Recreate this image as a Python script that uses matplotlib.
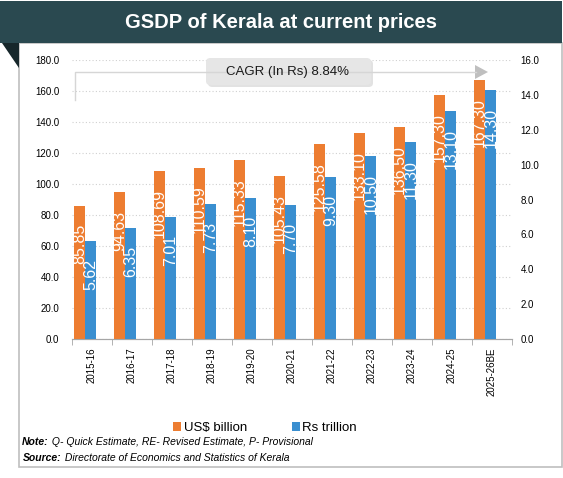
import matplotlib
matplotlib.use("Agg")
import matplotlib.pyplot as plt
from matplotlib.patches import Rectangle, Polygon, FancyBboxPatch, Patch
from matplotlib.ticker import FixedLocator, FormatStrFormatter

years = ["2015-16", "2016-17", "2017-18", "2018-19", "2019-20", "2020-21",
         "2021-22", "2022-23", "2023-24", "2024-25", "2025-26BE"]
usd_billion = [85.85, 94.63, 108.69, 110.59, 115.33, 105.43,
               125.58, 133.10, 136.50, 157.30, 167.30]
rs_trillion = [5.62, 6.35, 7.01, 7.73, 8.10, 7.70,
               9.30, 10.50, 11.30, 13.10, 14.30]

ORANGE = "#ED7D31"
BLUE = "#3A8FD0"
plt.rcParams["font.family"] = ["Liberation Sans", "DejaVu Sans"]

W, H = 563, 478
fig = plt.figure(figsize=(W / 100, H / 100), dpi=100)


def fx(px):
    return px / W


def fy(py):
    return 1 - py / H


# frame, banner and the little dark fold
fig.patches.append(Rectangle((fx(19), fy(467)), fx(562) - fx(19), fy(43) - fy(467),
                             transform=fig.transFigure, fill=False,
                             edgecolor="#BFBFBF", lw=1.2))
fig.patches.append(Rectangle((0, fy(43)), fx(562), fy(1) - fy(43),
                             transform=fig.transFigure, facecolor="#2A4950",
                             edgecolor="none"))
fig.patches.append(Polygon([(fx(2), fy(43)), (fx(19), fy(43)), (fx(19), fy(68))],
                           closed=True, transform=fig.transFigure,
                           facecolor="#17272B", edgecolor="none"))
fig.text(fx(281), fy(22), "GSDP of Kerala at current prices", color="white",
         fontsize=14.5, fontweight="bold", ha="center", va="center")

# main axes
ax = fig.add_axes([fx(72), fy(339), fx(512) - fx(72), fy(60) - fy(339)])
ax2 = ax.twinx()

x = list(range(len(years)))
bw = 0.28
xo = [i - 0.31 for i in x]
xb = [i - 0.03 for i in x]
ax.bar(xo, usd_billion, width=bw, color=ORANGE, zorder=3)
ax2.bar(xb, rs_trillion, width=bw, color=BLUE, zorder=3)

for xi, v in zip(xo, usd_billion):
    ax.annotate(f"{v:.2f}", xy=(xi, v), xytext=(0, -13), textcoords="offset points",
                rotation=90, ha="center", va="top", color="white", fontsize=11.5,
                zorder=5)
for xi, v in zip(xb, rs_trillion):
    ax2.annotate(f"{v:.2f}", xy=(xi, v), xytext=(0, -13), textcoords="offset points",
                 rotation=90, ha="center", va="top", color="white", fontsize=11.5,
                 zorder=5)

ax.set_xlim(-0.5, len(years) - 0.5)
ax.set_ylim(0, 180)
ax2.set_ylim(0, 16)
ax.set_yticks(range(0, 181, 20))
ax2.set_yticks(range(0, 17, 2))
ax.yaxis.set_major_formatter(FormatStrFormatter("%.1f"))
ax2.yaxis.set_major_formatter(FormatStrFormatter("%.1f"))
ax.yaxis.grid(True, linestyle=(0, (1, 2)), color="#D0D0D0", lw=0.8, zorder=0)
ax.set_axisbelow(True)

ax.set_xticks(x)
ax.set_xticklabels(years, rotation=90, fontsize=7)
ax.xaxis.set_minor_locator(FixedLocator([i - 0.5 for i in range(len(years) + 1)]))
ax.tick_params(axis="x", which="major", length=0, pad=6)
ax.tick_params(axis="x", which="minor", length=4, color="#A6A6A6")
ax.tick_params(axis="y", length=0, labelsize=7, pad=9)
ax2.tick_params(axis="y", length=0, labelsize=7, pad=6)
for a in (ax, ax2):
    for s in ("left", "right", "top"):
        a.spines[s].set_visible(False)
    a.spines["bottom"].set_color("#A6A6A6")

# CAGR arrow and box
fig.lines.append(plt.Line2D([fx(75), fx(75), fx(476)], [fy(100), fy(72), fy(72)],
                            transform=fig.transFigure, color="#D6D6D6", lw=1))
fig.patches.append(Polygon([(fx(475), fy(65)), (fx(488), fy(72)), (fx(475), fy(79))],
                           closed=True, transform=fig.transFigure,
                           facecolor="#BFBFBF", edgecolor="none"))
fig.patches.append(FancyBboxPatch((fx(208), fy(87)), fx(165), fy(0) - fy(27),
                                  boxstyle="round,pad=0,rounding_size=0.008",
                                  transform=fig.transFigure, facecolor="#CFCFCF",
                                  edgecolor="none", alpha=0.6))
fig.patches.append(FancyBboxPatch((fx(206), fy(85)), fx(165), fy(0) - fy(27),
                                  boxstyle="round,pad=0,rounding_size=0.008",
                                  transform=fig.transFigure, facecolor="#E6E6E6",
                                  edgecolor="none"))
fig.text(fx(288), fy(72), "CAGR (In Rs) 8.84%", fontsize=9.5,
         ha="center", va="center", color="#1A1A1A")

# legend
handles = [Patch(facecolor=ORANGE, label="US$ billion"),
           Patch(facecolor=BLUE, label="Rs trillion")]
fig.legend(handles=handles, ncol=2, loc="center", bbox_to_anchor=(fx(265), fy(428)),
           frameon=False, handlelength=0.6, handleheight=0.6, handletextpad=0.2,
           columnspacing=3.4, prop={"size": 9.5})

# notes
t1 = fig.text(fx(22), fy(442), "Note:", fontsize=7.5, style="italic",
              fontweight="bold", va="center")
ax.annotate(" Q- Quick Estimate, RE- Revised Estimate, P- Provisional",
            xy=(1, 0.5), xycoords=t1, va="center", fontsize=7.5,
            style="italic", annotation_clip=False)
t2 = fig.text(fx(23), fy(458), "Source:", fontsize=7.5, style="italic",
              fontweight="bold", va="center")
ax.annotate(" Directorate of Economics and Statistics of Kerala",
            xy=(1, 0.5), xycoords=t2, va="center", fontsize=7.5,
            style="italic", annotation_clip=False)

fig.savefig("out.png", dpi=100)
